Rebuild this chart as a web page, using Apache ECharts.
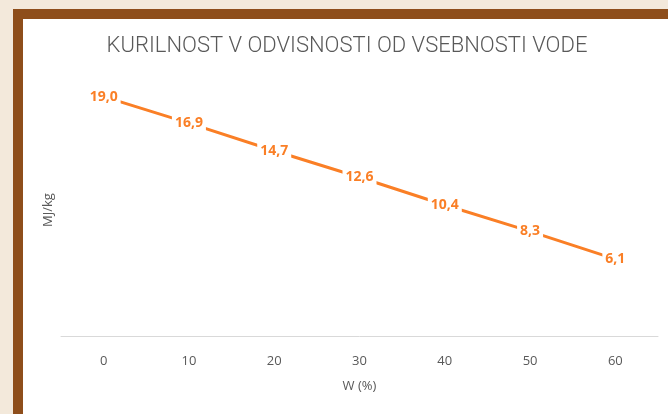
<!DOCTYPE html>
<html><head><meta charset="utf-8">
<script src="https://cdn.jsdelivr.net/npm/echarts@6/dist/echarts.min.js"></script>
<style>html,body{margin:0;padding:0;background:#F3E9DB;}#c{width:668px;height:414px;}</style>
</head><body><div id="c"></div>
<script>
const categories = ['0','10','20','30','40','50','60'];
const values = [19.0, 16.9, 14.7, 12.6, 10.4, 8.3, 6.1];
const titleText = 'KURILNOST V ODVISNOSTI OD VSEBNOSTI VODE';
const xName = 'W (%)';
const yName = 'MJ/kg';

const chart = echarts.init(document.getElementById('c'), null, {renderer:'canvas'});
chart.setOption({
  backgroundColor: '#F3E9DB',
  animation: false,
  graphic: [
    {type:'rect', shape:{x:13,y:9,width:655,height:405}, style:{fill:'#8E4E1B'}, z:-10},
    {type:'rect', shape:{x:23,y:19,width:645,height:395}, style:{fill:'#FFFFFF'}, z:-9},
    {type:'text', x:347, y:46, style:{text:titleText, fontFamily:'Roboto', fontWeight:300, fontSize:22,
      fill:'#595959', align:'center', verticalAlign:'middle'}, z:5}
  ],
  grid: {left: 61, right: 10, top: 84, bottom: 78},
  xAxis: {
    type:'category', data: categories, boundaryGap: true,
    name: xName, nameLocation:'middle', nameGap: 44,
    nameTextStyle:{fontFamily:'Open Sans', fontSize:13, color:'#595959'},
    axisLine:{lineStyle:{color:'#D9D9D9', width:1}},
    axisTick:{show:false},
    axisLabel:{fontFamily:'Open Sans', fontSize:13, color:'#595959', margin:19}
  },
  yAxis: {
    type:'value', min:0, max:20, interval:5,
    name: yName, nameLocation:'middle', nameGap: 6, nameRotate: 90,
    nameTextStyle:{fontFamily:'Open Sans', fontSize:13, color:'#595959'},
    axisLine:{show:false}, axisTick:{show:false}, axisLabel:{show:false}, splitLine:{show:false}
  },
  series: [{
    type:'line', data: values, symbol:'circle', symbolSize:2, showSymbol:true,
    itemStyle:{color:'#FA7F26', opacity:0},
    lineStyle:{color:'#FA7F26', width:3},
    label:{show:true, position:'inside', opacity:1,
      formatter: p => p.value.toFixed(1).replace('.', ','),
      fontFamily:'Open Sans', fontWeight:'bold', fontSize:14, color:'#FA7F26',
      backgroundColor:'#FFFFFF', padding:[1,3]}
  }]
});
</script></body></html>
